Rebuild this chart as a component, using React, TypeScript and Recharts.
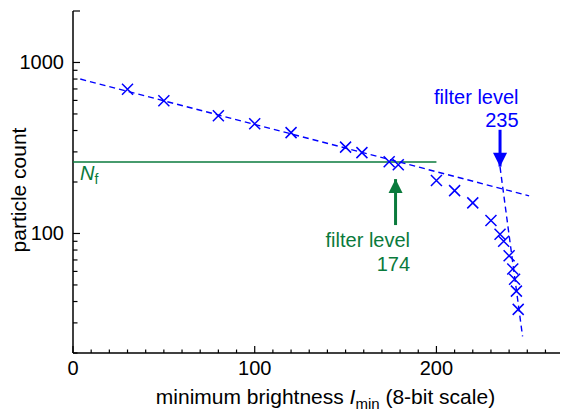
import { ComposedChart, Scatter, XAxis, YAxis, ReferenceDot } from 'recharts'

// measured points
const minBrightness = [30, 50, 80, 100, 120, 150, 159, 174, 179, 200, 210, 220, 230, 235, 237, 240, 242, 243, 244, 245]
const particleCount = [698, 597, 488, 438, 389, 320, 297, 263, 252, 204, 178, 151, 119, 99, 90, 74, 62, 54, 46, 36]

// fitted lines (end points)
const fitSlowX = [4, 251]
const fitSlowY = [800, 166]
const fitSteepX = [235, 247.4]
const fitSteepY = [245, 25]

// N_f level
const nfX = [0, 200]
const nfLevel = 262

// arrows: filter levels
const blueArrowX = 235
const blueArrowY = [404, 246]
const greenArrowX = 177.5
const greenArrowY = [112, 208]

const xTicks = [0, 10, 20, 30, 40, 50, 60, 70, 80, 90, 100, 110, 120, 130, 140, 150, 160, 170, 180, 190, 200, 210, 220, 230, 240, 250, 260]
const yTicks = [20, 30, 40, 50, 60, 70, 80, 90, 100, 200, 300, 400, 500, 600, 700, 800, 900, 1000, 2000]
const yLabels = [100, 1000]

const BLUE = '#0000ff'
const GREEN = '#0a7a3c'
const FONT = '"Liberation Sans", Arial, sans-serif'

const points = minBrightness.map((x, i) => ({ x, y: particleCount[i] }))
const fitSlow = fitSlowX.map((x, i) => ({ x, y: fitSlowY[i] }))
const fitSteep = fitSteepX.map((x, i) => ({ x, y: fitSteepY[i] }))
const nfLine = nfX.map((x) => ({ x, y: nfLevel }))
const blueArrow = blueArrowY.map((y, i) => ({ x: blueArrowX, y, tip: i === 1 }))
const greenArrow = greenArrowY.map((y, i) => ({ x: greenArrowX, y, tip: i === 1 }))

const Cross = (p: any) => {
  const { cx, cy } = p
  const s = 5.5
  return (
    <path
      d={`M${cx - s},${cy - s}L${cx + s},${cy + s}M${cx - s},${cy + s}L${cx + s},${cy - s}`}
      stroke={BLUE}
      strokeWidth={1.5}
      fill="none"
    />
  )
}

const Nothing = () => <g />

const arrowHead = (color: string, dir: number) => (p: any) => {
  const { cx, cy, payload } = p
  if (!payload.tip) return <g />
  // dir 1: pointing down, -1: pointing up
  return <path d={`M${cx - 7},${cy - dir * 14}L${cx + 7},${cy - dir * 14}L${cx},${cy}Z`} fill={color} />
}

const XTickBottom = (p: any) => {
  const { x, y, payload } = p
  const major = payload.value % 100 === 0
  return (
    <g>
      <line x1={x} x2={x} y1={y} y2={y - (major ? 7 : 3.5)} stroke="#000" strokeWidth={1.2} />
      {major && (
        <text x={x} y={y + 22} textAnchor="middle" fontSize={20} fontFamily={FONT} fill="#000">
          {payload.value}
        </text>
      )}
    </g>
  )
}

const XTickTop = (p: any) => {
  const { x, y, payload } = p
  const major = payload.value % 100 === 0
  return <line x1={x} x2={x} y1={y} y2={y + (major ? 7 : 3.5)} stroke="#000" strokeWidth={1.2} />
}

const YTickLeft = (p: any) => {
  const { x, y, payload } = p
  const major = yLabels.includes(payload.value) || payload.value === 2000
  return (
    <g>
      <line x1={x} x2={x + (major ? 7 : 4.5)} y1={y} y2={y} stroke="#000" strokeWidth={1.2} />
      {yLabels.includes(payload.value) && (
        <text x={x - 9} y={y + 7} textAnchor="end" fontSize={20} fontFamily={FONT} fill="#000">
          {payload.value}
        </text>
      )}
    </g>
  )
}

const YTickRight = (p: any) => {
  const { x, y, payload } = p
  const major = yLabels.includes(payload.value) || payload.value === 2000
  return <line x1={x} x2={x - (major ? 7 : 4.5)} y1={y} y2={y} stroke="#000" strokeWidth={1.2} />
}

const XTitle = (p: any) => {
  const { x, y, width } = p.viewBox
  return (
    <text x={x + width / 2 + 9} y={y + 51} textAnchor="middle" fontSize={21} fontFamily={FONT} fill="#000">
      minimum brightness <tspan fontStyle="italic">I</tspan>
      <tspan fontSize={15} dy={5}>min</tspan>
      <tspan dy={-5}> (8-bit scale)</tspan>
    </text>
  )
}

const YTitle = (p: any) => {
  const { y, height } = p.viewBox
  const cx = 26
  const cy = y + height / 2 + 8
  return (
    <text x={cx} y={cy} transform={`rotate(-90, ${cx}, ${cy})`} textAnchor="middle" fontSize={21} fontFamily={FONT} fill="#000">
      particle count
    </text>
  )
}

const BlueNote = (p: any) => {
  const { x, y } = p.viewBox
  return (
    <text textAnchor="end" fontSize={20} fontFamily={FONT} fill={BLUE}>
      <tspan x={x + 18.5} y={y - 26}>filter level</tspan>
      <tspan x={x + 18.5} y={y - 2.5}>235</tspan>
    </text>
  )
}

const GreenNote = (p: any) => {
  const { x, y } = p.viewBox
  return (
    <text textAnchor="end" fontSize={20} fontFamily={FONT} fill={GREEN}>
      <tspan x={x + 14.5} y={y + 21.5}>filter level</tspan>
      <tspan x={x + 14.5} y={y + 46}>174</tspan>
    </text>
  )
}

const NfNote = (p: any) => {
  const { x, y } = p.viewBox
  return (
    <text x={x + 7} y={y + 18} fontSize={20} fontFamily={FONT} fill={GREEN}>
      <tspan fontStyle="italic">N</tspan>
      <tspan fontSize={14} dy={4}>f</tspan>
    </text>
  )
}

export default function App() {
  return (
    <div style={{ width: 562, height: 413 }}>
      <style>{'body{margin:0}'}</style>
      <ComposedChart width={562} height={413} margin={{ top: 11, right: 2, bottom: 0, left: 0 }}>
        <XAxis
          xAxisId="b"
          type="number"
          dataKey="x"
          domain={[0, 268]}
          allowDataOverflow
          ticks={xTicks}
          interval={0}
          height={60}
          tickSize={0}
          tickMargin={0}
          tickLine={false}
          tick={<XTickBottom />}
          axisLine={{ stroke: '#000', strokeWidth: 1.5 }}
          label={(p: any) => <XTitle {...p} />}
        />
        <XAxis
          xAxisId="t"
          orientation="top"
          type="number"
          dataKey="x"
          domain={[0, 268]}
          allowDataOverflow
          ticks={xTicks}
          interval={0}
          height={0}
          tickSize={0}
          tickMargin={0}
          tickLine={false}
          tick={<XTickTop />}
          axisLine={{ stroke: '#000', strokeWidth: 1.5 }}
        />
        <YAxis
          yAxisId="l"
          type="number"
          dataKey="y"
          scale="log"
          domain={[20, 2000]}
          allowDataOverflow
          ticks={yTicks}
          interval={0}
          width={73}
          tickSize={0}
          tickMargin={0}
          tickLine={false}
          tick={<YTickLeft />}
          axisLine={{ stroke: '#000', strokeWidth: 1.5 }}
          label={(p: any) => <YTitle {...p} />}
        />
        <YAxis
          yAxisId="r"
          orientation="right"
          type="number"
          dataKey="y"
          scale="log"
          domain={[20, 2000]}
          allowDataOverflow
          ticks={yTicks}
          interval={0}
          width={0}
          tickSize={0}
          tickMargin={0}
          tickLine={false}
          tick={<YTickRight />}
          axisLine={{ stroke: '#000', strokeWidth: 1.5 }}
        />

        <Scatter xAxisId="b" yAxisId="l" data={nfLine} line={{ stroke: GREEN, strokeWidth: 1.5 }} shape={Nothing} isAnimationActive={false} />
        <Scatter xAxisId="b" yAxisId="l" data={fitSlow} line={{ stroke: BLUE, strokeWidth: 1.4, strokeDasharray: '6 4' }} shape={Nothing} isAnimationActive={false} />
        <Scatter xAxisId="b" yAxisId="l" data={fitSteep} line={{ stroke: BLUE, strokeWidth: 1.4, strokeDasharray: '6 4' }} shape={Nothing} isAnimationActive={false} />
        <Scatter xAxisId="b" yAxisId="l" data={points} shape={Cross} isAnimationActive={false} />
        <Scatter xAxisId="b" yAxisId="l" data={blueArrow} line={{ stroke: BLUE, strokeWidth: 3 }} shape={arrowHead(BLUE, 1)} isAnimationActive={false} />
        <Scatter xAxisId="b" yAxisId="l" data={greenArrow} line={{ stroke: GREEN, strokeWidth: 3 }} shape={arrowHead(GREEN, -1)} isAnimationActive={false} />

        <ReferenceDot xAxisId="b" yAxisId="l" x={blueArrowX} y={blueArrowY[0]} r={0} stroke="none" fill="none" label={(p: any) => <BlueNote {...p} />} />
        <ReferenceDot xAxisId="b" yAxisId="l" x={greenArrowX} y={greenArrowY[0]} r={0} stroke="none" fill="none" label={(p: any) => <GreenNote {...p} />} />
        <ReferenceDot xAxisId="b" yAxisId="l" x={nfX[0]} y={nfLevel} r={0} stroke="none" fill="none" label={(p: any) => <NfNote {...p} />} />
      </ComposedChart>
    </div>
  )
}
